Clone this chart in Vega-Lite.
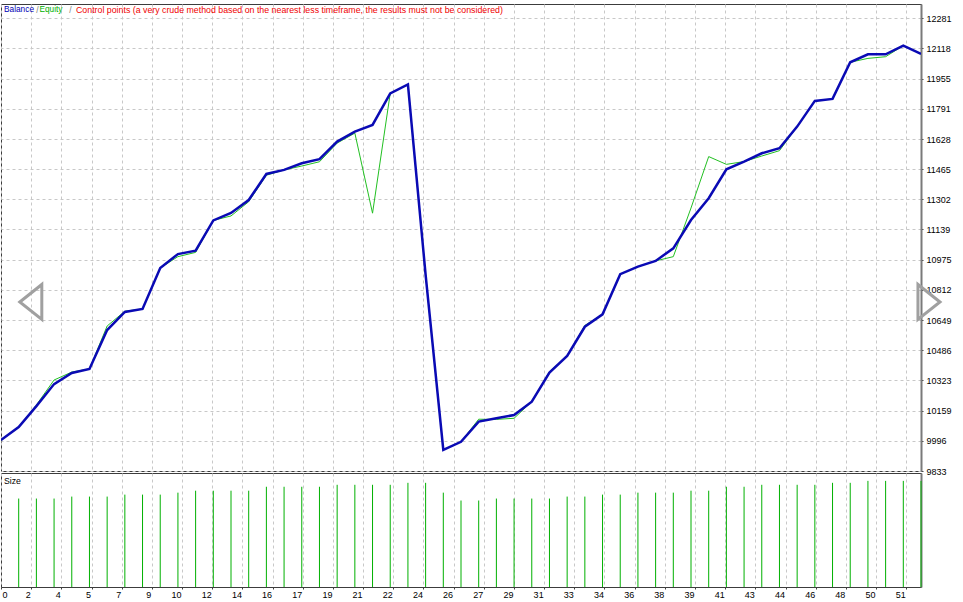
{
  "$schema": "https://vega.github.io/schema/vega-lite/v6.json",
  "padding": {"left": 0, "top": 3, "right": 0, "bottom": 0},
  "background": "white",
  "spacing": 2,
  "bounds": "flush",
  "config": {
    "view": {"stroke": "#3c3c3c", "strokeWidth": 1},
    "font": "Liberation Sans",
    "axis": {"labelFont": "Liberation Sans", "labelFontSize": 9, "labelColor": "#000000", "gridColor": "#c8c8c8", "gridDash": [3, 3], "gridWidth": 1, "tickColor": "#404040", "title": null, "labelOverlap": false}
  },
  "datasets": {
    "curve": [
      {"trade": 0, "balance": 10000, "equity": 10000},
      {"trade": 1, "balance": 10071, "equity": 10071},
      {"trade": 2, "balance": 10184, "equity": 10190},
      {"trade": 3, "balance": 10303, "equity": 10325},
      {"trade": 4, "balance": 10363, "equity": 10368},
      {"trade": 5, "balance": 10385, "equity": 10385},
      {"trade": 6, "balance": 10595, "equity": 10617},
      {"trade": 7, "balance": 10693, "equity": 10697},
      {"trade": 8, "balance": 10709, "equity": 10709},
      {"trade": 9, "balance": 10931, "equity": 10931},
      {"trade": 10, "balance": 11006, "equity": 10992},
      {"trade": 11, "balance": 11024, "equity": 11015},
      {"trade": 12, "balance": 11188, "equity": 11188},
      {"trade": 13, "balance": 11228, "equity": 11212},
      {"trade": 14, "balance": 11298, "equity": 11289},
      {"trade": 15, "balance": 11439, "equity": 11432},
      {"trade": 16, "balance": 11461, "equity": 11461},
      {"trade": 17, "balance": 11497, "equity": 11482},
      {"trade": 18, "balance": 11519, "equity": 11505},
      {"trade": 19, "balance": 11614, "equity": 11606},
      {"trade": 20, "balance": 11668, "equity": 11660},
      {"trade": 21, "balance": 11704, "equity": 11227},
      {"trade": 22, "balance": 11875, "equity": 11875},
      {"trade": 23, "balance": 11923, "equity": 11923},
      {"trade": 24, "balance": 10893, "equity": 10893},
      {"trade": 25, "balance": 9947, "equity": 9947},
      {"trade": 26, "balance": 9991, "equity": 9991},
      {"trade": 27, "balance": 10100, "equity": 10113},
      {"trade": 28, "balance": 10118, "equity": 10112},
      {"trade": 29, "balance": 10136, "equity": 10118},
      {"trade": 30, "balance": 10208, "equity": 10208},
      {"trade": 31, "balance": 10365, "equity": 10370},
      {"trade": 32, "balance": 10455, "equity": 10455},
      {"trade": 33, "balance": 10613, "equity": 10620},
      {"trade": 34, "balance": 10680, "equity": 10680},
      {"trade": 35, "balance": 10897, "equity": 10897},
      {"trade": 36, "balance": 10938, "equity": 10938},
      {"trade": 37, "balance": 10969, "equity": 10969},
      {"trade": 38, "balance": 11037, "equity": 10992},
      {"trade": 39, "balance": 11190, "equity": 11255},
      {"trade": 40, "balance": 11308, "equity": 11533},
      {"trade": 41, "balance": 11464, "equity": 11491},
      {"trade": 42, "balance": 11506, "equity": 11506},
      {"trade": 43, "balance": 11551, "equity": 11536},
      {"trade": 44, "balance": 11578, "equity": 11565},
      {"trade": 45, "balance": 11695, "equity": 11695},
      {"trade": 46, "balance": 11834, "equity": 11834},
      {"trade": 47, "balance": 11845, "equity": 11845},
      {"trade": 48, "balance": 12043, "equity": 12043},
      {"trade": 49, "balance": 12086, "equity": 12064},
      {"trade": 50, "balance": 12086, "equity": 12073},
      {"trade": 51, "balance": 12133, "equity": 12133},
      {"trade": 52, "balance": 12088, "equity": 12088}
    ],
    "size": [
      {"trade": 1, "lots": 0.45}, {"trade": 2, "lots": 0.45}, {"trade": 3, "lots": 0.45},
      {"trade": 4, "lots": 0.46}, {"trade": 5, "lots": 0.46}, {"trade": 6, "lots": 0.46},
      {"trade": 7, "lots": 0.47}, {"trade": 8, "lots": 0.47}, {"trade": 9, "lots": 0.47},
      {"trade": 10, "lots": 0.48},
      {"trade": 11, "lots": 0.49}, {"trade": 12, "lots": 0.49}, {"trade": 13, "lots": 0.49}, {"trade": 14, "lots": 0.49},
      {"trade": 15, "lots": 0.51}, {"trade": 16, "lots": 0.51}, {"trade": 17, "lots": 0.51}, {"trade": 18, "lots": 0.51},
      {"trade": 19, "lots": 0.52}, {"trade": 20, "lots": 0.52}, {"trade": 21, "lots": 0.52}, {"trade": 22, "lots": 0.52},
      {"trade": 23, "lots": 0.53}, {"trade": 24, "lots": 0.53},
      {"trade": 25, "lots": 0.48},
      {"trade": 26, "lots": 0.44}, {"trade": 27, "lots": 0.44},
      {"trade": 28, "lots": 0.45}, {"trade": 29, "lots": 0.45}, {"trade": 30, "lots": 0.45}, {"trade": 31, "lots": 0.45},
      {"trade": 32, "lots": 0.46}, {"trade": 33, "lots": 0.46},
      {"trade": 34, "lots": 0.47}, {"trade": 35, "lots": 0.47},
      {"trade": 36, "lots": 0.48}, {"trade": 37, "lots": 0.48}, {"trade": 38, "lots": 0.48},
      {"trade": 39, "lots": 0.49}, {"trade": 40, "lots": 0.49},
      {"trade": 41, "lots": 0.51}, {"trade": 42, "lots": 0.51},
      {"trade": 43, "lots": 0.52}, {"trade": 44, "lots": 0.52}, {"trade": 45, "lots": 0.52}, {"trade": 46, "lots": 0.52},
      {"trade": 47, "lots": 0.53}, {"trade": 48, "lots": 0.53},
      {"trade": 49, "lots": 0.54}, {"trade": 50, "lots": 0.54}, {"trade": 51, "lots": 0.54}, {"trade": 52, "lots": 0.54}
    ]
  },
  "vconcat": [
    {
      "width": 920,
      "height": 467,
      "layer": [
        {
          "data": {"name": "curve"},
          "mark": {"type": "line", "color": "#22c022", "strokeWidth": 1, "clip": true},
          "encoding": {
            "x": {"field": "trade", "type": "quantitative", "scale": {"domain": [0, 52], "nice": false, "zero": false},
              "axis": {"orient": "bottom", "tickCount": 100, "values": [0, 1.7055, 3.411, 5.1165, 6.822, 8.5275, 10.233, 11.9385, 13.644, 15.3495, 17.055, 18.7605, 20.466, 22.1715, 23.877, 25.5825, 27.288, 28.9935, 30.699, 32.4045, 34.11, 35.8155, 37.521, 39.2265, 40.932, 42.6375, 44.343, 46.0485, 47.754, 49.4595, 51.165], "labels": false, "ticks": false, "domain": false, "grid": true}},
            "y": {"field": "equity", "type": "quantitative", "scale": {"domain": [9833, 12358], "nice": false, "zero": false},
              "axis": {"orient": "right", "tickCount": 100, "values": [9833, 9996, 10159, 10323, 10486, 10649, 10812, 10975, 11139, 11302, 11465, 11628, 11791, 11955, 12118, 12281], "format": "d", "labelOverlap": false, "grid": true, "ticks": true, "tickSize": 2, "labelPadding": 3, "domain": true, "domainColor": "#7a7a7a", "domainWidth": 2}}
          }
        },
        {
          "data": {"name": "curve"},
          "mark": {"type": "line", "color": "#0a0ab4", "strokeWidth": 2.5, "clip": true},
          "encoding": {
            "x": {"field": "trade", "type": "quantitative"},
            "y": {"field": "balance", "type": "quantitative"}
          }
        },
        {
          "data": {"values": [{}]},
          "mark": {"type": "text", "align": "left", "baseline": "middle", "fontSize": 8.3, "color": "#0000b4"},
          "encoding": {"text": {"value": "Balance"}, "x": {"datum": 0.17, "type": "quantitative"}, "y": {"datum": 12327, "type": "quantitative"}}
        },
        {
          "data": {"values": [{}]},
          "mark": {"type": "text", "align": "left", "baseline": "middle", "fontSize": 8.5, "color": "#808080"},
          "encoding": {"text": {"value": "/"}, "x": {"datum": 1.99, "type": "quantitative"}, "y": {"datum": 12327, "type": "quantitative"}}
        },
        {
          "data": {"values": [{}]},
          "mark": {"type": "text", "align": "left", "baseline": "middle", "fontSize": 8.3, "color": "#00b000"},
          "encoding": {"text": {"value": "Equity"}, "x": {"datum": 2.17, "type": "quantitative"}, "y": {"datum": 12327, "type": "quantitative"}}
        },
        {
          "data": {"values": [{}]},
          "mark": {"type": "text", "align": "left", "baseline": "middle", "fontSize": 8.5, "color": "#808080"},
          "encoding": {"text": {"value": "/"}, "x": {"datum": 3.86, "type": "quantitative"}, "y": {"datum": 12327, "type": "quantitative"}}
        },
        {
          "data": {"values": [{}]},
          "mark": {"type": "text", "align": "left", "baseline": "middle", "fontSize": 8.8, "color": "#f00000"},
          "encoding": {"text": {"value": "Control points (a very crude method based on the nearest less timeframe, the results must not be considered)"}, "x": {"datum": 4.239, "type": "quantitative"}, "y": {"datum": 12327, "type": "quantitative"}}
        },
        {
          "data": {"values": [{}]},
          "mark": {"type": "point", "shape": "M -0.55 0 L 0.55 -0.875 L 0.55 0.875 Z", "size": 1600, "filled": false, "stroke": "#a0a0a0", "strokeWidth": 3, "opacity": 1},
          "encoding": {"x": {"datum": 1.685, "type": "quantitative"}, "y": {"datum": 10747, "type": "quantitative"}}
        },
        {
          "data": {"values": [{}]},
          "mark": {"type": "point", "shape": "M 0.55 0 L -0.55 -0.875 L -0.55 0.875 Z", "size": 1600, "filled": false, "stroke": "#a0a0a0", "strokeWidth": 3, "opacity": 1},
          "encoding": {"x": {"datum": 52.45, "type": "quantitative"}, "y": {"datum": 10747, "type": "quantitative"}}
        }
      ]
    },
    {
      "width": 920,
      "height": 114,
      "layer": [
        {
          "data": {"name": "size"},
          "mark": {"type": "rule", "color": "#00b000", "strokeWidth": 1},
          "encoding": {
            "x": {"field": "trade", "type": "quantitative", "scale": {"domain": [0, 52], "nice": false, "zero": false},
              "axis": {"orient": "bottom", "tickCount": 100, "values": [0, 1.7055, 3.411, 5.1165, 6.822, 8.5275, 10.233, 11.9385, 13.644, 15.3495, 17.055, 18.7605, 20.466, 22.1715, 23.877, 25.5825, 27.288, 28.9935, 30.699, 32.4045, 34.11, 35.8155, 37.521, 39.2265, 40.932, 42.6375, 44.343, 46.0485, 47.754, 49.4595, 51.165],
                "labelExpr": "['0','2','4','5','7','9','10','12','14','16','17','19','21','22','24','26','27','29','31','33','34','36','38','39','41','43','44','46','48','50','51'][round(datum.value/1.7055)]",
                "labelOverlap": false,
                "grid": true, "ticks": true, "tickSize": 2, "domain": false,
                "labelAlign": {"condition": {"test": "datum.value < 0.5", "value": "left"}, "value": "right"},
                "labelOffset": {"condition": {"test": "datum.value < 0.5", "value": 1}, "value": -1},
                "labelFlush": false, "labelPadding": 1}},
            "y": {"field": "lots", "type": "quantitative", "scale": {"domain": [0, 0.58], "nice": false, "zero": true},
              "axis": {"orient": "right", "labels": false, "ticks": false, "grid": false, "domain": true, "domainColor": "#7a7a7a", "domainWidth": 2}},
            "y2": {"datum": 0}
          }
        },
        {
          "data": {"values": [{}]},
          "mark": {"type": "text", "align": "left", "baseline": "middle", "fontSize": 8.7, "color": "#000000"},
          "encoding": {"text": {"value": "Size"}, "x": {"datum": 0.17, "type": "quantitative"}, "y": {"datum": 0.539, "type": "quantitative"}}
        }
      ]
    }
  ]
}
